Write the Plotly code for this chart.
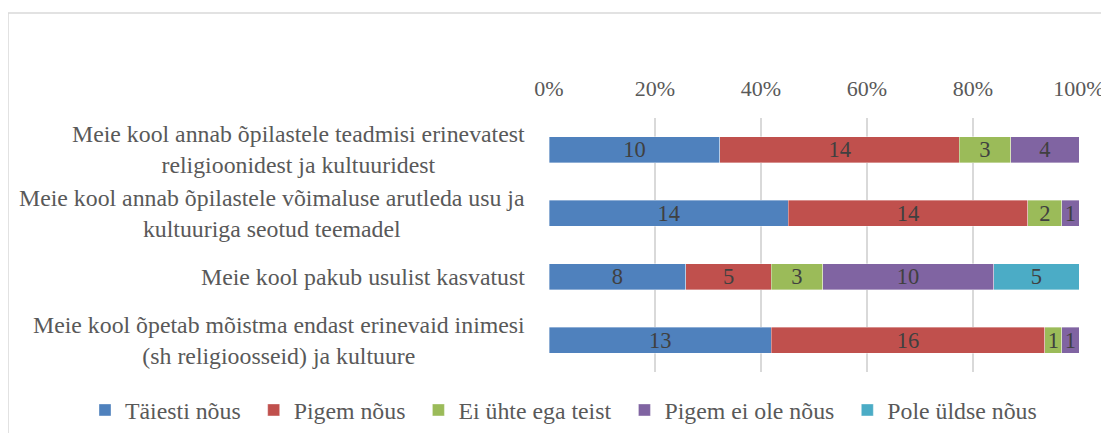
import plotly.graph_objects as go

categories = [
    "Meie kool annab õpilastele teadmisi erinevatest<br>religioonidest ja kultuuridest",
    "Meie kool annab õpilastele võimaluse arutleda usu ja<br>kultuuriga seotud teemadel",
    "Meie kool pakub usulist kasvatust",
    "Meie kool õpetab mõistma endast erinevaid inimesi<br>(sh religioosseid) ja kultuure",
]
series_names = ["Täiesti nõus", "Pigem nõus", "Ei ühte ega teist", "Pigem ei ole nõus", "Pole üldse nõus"]
taiesti = [10, 14, 8, 13]
pigem = [14, 14, 5, 16]
ei_uhte = [3, 2, 3, 1]
pigem_ei = [4, 1, 10, 1]
pole = [0, 0, 5, 0]
series_values = [taiesti, pigem, ei_uhte, pigem_ei, pole]
colors = ["#4F81BD", "#C0504D", "#9BBB59", "#8064A2", "#4BACC6"]
tick_vals = [0, 20, 40, 60, 80, 100]

FONT = "Liberation Serif"
OFF = 8  # default body margin of the html page
W, H = 1099, 441 - 2 * OFF
L = 549 - OFF
T = 118 - OFF
R = W - (1079 - OFF)
B = H - (372 - OFF)
pw, ph = W - L - R, H - T - B

fig = go.Figure()
for name, vals, col in zip(series_names, series_values, colors):
    fig.add_trace(go.Bar(
        y=categories, x=vals, name=name, orientation="h",
        marker=dict(color=col, line=dict(color="rgba(255,255,255,0.6)", width=0.6)),
        text=[str(v) if v else "" for v in vals],
        texttemplate="%{text}", textposition="inside", insidetextanchor="middle",
        textangle=0,
        textfont=dict(family=FONT, size=22.5, color="#404040"),
        constraintext="none", hoverinfo="skip",
    ))

annotations = []
for c in categories:
    annotations.append(dict(
        x=((527 - OFF) - L) / pw, xref="paper", y=c, yref="y", text=c,
        xanchor="right", yanchor="middle", align="center", showarrow=False,
        font=dict(family=FONT, size=23.8, color="#595959"),
    ))

fig.update_layout(
    width=W, height=H,
    margin=dict(l=L, r=R, t=T, b=B, pad=0, autoexpand=False),
    paper_bgcolor="white", plot_bgcolor="white",
    barmode="stack", barnorm="percent", bargap=0.59,
    font=dict(family=FONT, size=22, color="#595959"),
    xaxis=dict(
        side="top", range=[0, 100], tickvals=tick_vals,
        ticktext=[f"{v}%" for v in tick_vals],
        showgrid=True, gridcolor="#D9D9D9", gridwidth=1.5,
        zeroline=False, showline=False,
        ticks="outside", ticklen=12, tickcolor="rgba(0,0,0,0)",
        tickfont=dict(family=FONT, size=22, color="#595959"),
        ticklabeloverflow="allow",
        fixedrange=True,
    ),
    yaxis=dict(
        autorange="reversed", showticklabels=False, showgrid=False,
        zeroline=False, showline=False, fixedrange=True,
    ),
    legend=dict(
        orientation="h", xref="paper", x=((77 - OFF) - L) / pw, xanchor="left",
        yref="paper", y=(372 - 410) / 254, yanchor="middle",
        indentation=8,
        font=dict(family=FONT, size=23.8, color="#595959"),
        traceorder="normal", itemclick=False, itemdoubleclick=False,
    ),
    annotations=annotations,
    shapes=[dict(
        type="rect", xref="paper", yref="paper",
        x0=((8 - OFF) - L) / pw, x1=((1120 - OFF) - L) / pw,
        y0=-((450 - OFF) - (H - B)) / ph, y1=((H - B) - (13 - OFF)) / ph,
        line=dict(color="#D9D9D9", width=1.5), fillcolor="rgba(0,0,0,0)",
        layer="below",
    )],
    showlegend=True,
)

fig.write_html("out.html", config={"displayModeBar": False})
